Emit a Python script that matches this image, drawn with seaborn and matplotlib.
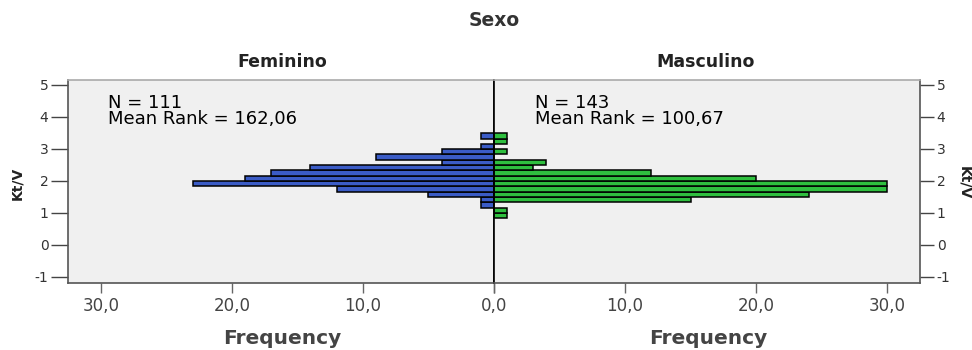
import matplotlib
matplotlib.use("Agg")
import matplotlib.pyplot as plt
import seaborn as sns
import numpy as np
import pandas as pd

# ---- data ----
ktv_bin_edges = [0.82, 0.987, 1.153, 1.32, 1.487, 1.653, 1.82, 1.987, 2.153,
                 2.32, 2.487, 2.653, 2.82, 2.987, 3.153, 3.32, 3.487]
feminino_counts = [0, 0, 1, 1, 5, 12, 23, 19, 17, 14, 4, 9, 4, 1, 0, 1]
masculino_counts = [1, 1, 0, 15, 24, 30, 30, 20, 12, 3, 4, 0, 1, 0, 1, 1]
group_names = ["Feminino", "Masculino"]
group_n = [111, 143]
group_mean_rank = ["162,06", "100,67"]
x_ticks = [0, 10, 20, 30]
x_tick_labels = ["0,0", "10,0", "20,0", "30,0"]
y_ticks = [-1, 0, 1, 2, 3, 4, 5]
title = "Sexo"

sns.set_style("white")
plt.rcParams["font.family"] = ["DejaVu Sans"]

W, H = 972, 350
fig = plt.figure(figsize=(W / 100, H / 100), dpi=100)

def fx(px):
    return px / W

def fy(py):
    return 1 - py / H

left, right, top, bottom, mid = 68, 920, 80, 283, 494
axL = fig.add_axes([fx(left), fy(bottom), fx(mid - left), (bottom - top) / H])
axR = fig.add_axes([fx(mid), fy(bottom), fx(right - mid), (bottom - top) / H])

edges = [float(e) for e in ktv_bin_edges]
centers = [(a + b) / 2 for a, b in zip(edges[:-1], edges[1:])]
dfF = pd.DataFrame({"ktv": centers, "count": feminino_counts})
dfM = pd.DataFrame({"ktv": centers, "count": masculino_counts})

blue = "#3b5cc6"
green = "#2fbf3f"
bg = "#f0f0f0"

sns.histplot(data=dfF, y="ktv", weights="count", bins=edges, ax=axL,
             color=blue, edgecolor="black", linewidth=1.1, alpha=1)
sns.histplot(data=dfM, y="ktv", weights="count", bins=edges, ax=axR,
             color=green, edgecolor="black", linewidth=1.1, alpha=1)

xmax = 32.5
ylo, yhi = -1.2, 5.15
axL.set_xlim(xmax, 0)
axR.set_xlim(0, xmax)
for ax in (axL, axR):
    ax.set_ylim(ylo, yhi)
    ax.set_facecolor(bg)
    ax.set_xlabel("")
    ax.set_ylabel("")
    ax.set_xticks(x_ticks)
    ax.tick_params(axis="x", length=7, width=1, color="#666666", pad=3,
                   bottom=True)
    for s in ax.spines.values():
        s.set_color("#555555")
        s.set_linewidth(1.2)
    ax.spines["top"].set_color("#aaaaaa")

axL.set_xticklabels(x_tick_labels, fontsize=12, color="#444444")
axR.set_xticklabels([""] + x_tick_labels[1:], fontsize=12, color="#444444")

axL.spines["right"].set_color("black")
axR.spines["left"].set_color("black")

axL.set_yticks(y_ticks)
axL.set_yticklabels([str(v) for v in y_ticks], fontsize=10, color="#333333")
axL.tick_params(axis="y", left=True, right=False, length=12, width=1,
                color="#444444", pad=2)
axR.yaxis.tick_right()
axR.set_yticks(y_ticks)
axR.set_yticklabels([str(v) for v in y_ticks], fontsize=10, color="#333333")
axR.tick_params(axis="y", right=True, left=False, length=10, width=1,
                color="#444444", pad=2)

# titles
fig.text(fx(494), fy(20), title, ha="center", va="center",
         fontsize=13.5, fontweight="bold", color="#333333")
fig.text(fx(282), fy(62), group_names[0], ha="center", va="center",
         fontsize=12.5, fontweight="bold", color="#222222")
fig.text(fx(706), fy(62), group_names[1], ha="center", va="center",
         fontsize=12.5, fontweight="bold", color="#222222")

# annotations
for x0, n, mr in [(108, group_n[0], group_mean_rank[0]),
                  (535, group_n[1], group_mean_rank[1])]:
    fig.text(fx(x0), fy(124), f"N = {n}\nMean Rank = {mr}", ha="left",
             va="baseline", fontsize=13, color="#000000", linespacing=0.85)

# axis labels
fig.text(fx(282), fy(339), "Frequency", ha="center", va="center",
         fontsize=14.5, fontweight="bold", color="#444444")
fig.text(fx(708), fy(339), "Frequency", ha="center", va="center",
         fontsize=14.5, fontweight="bold", color="#444444")
fig.text(fx(17), fy(183), "Kt/V", ha="center", va="center", rotation=90,
         fontsize=10, fontweight="bold", color="#222222")
fig.text(fx(964), fy(183), "Kt/V", ha="center", va="center", rotation=270,
         fontsize=10, fontweight="bold", color="#222222")

fig.savefig("out.png", dpi=100, facecolor="white")
